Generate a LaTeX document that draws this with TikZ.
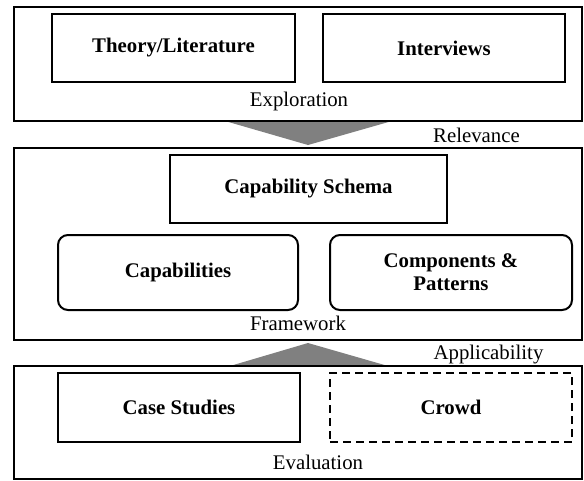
\documentclass[tikz,border=0pt]{standalone}
\usepackage{fontspec}
\setmainfont{Liberation Serif}
\begin{document}
\begin{tikzpicture}[x=1pt,y=-1pt,
  outer/.style={draw, line width=2.2pt, inner sep=0pt},
  inbox/.style={draw, line width=2pt, inner sep=0pt, align=center,
    font=\fontsize{20.8}{23}\selectfont\bfseries},
  rbox/.style={inbox, rounded corners=10pt},
  dbox/.style={inbox, dash pattern=on 8pt off 5pt},
  lbl/.style={inner sep=0pt, font=\fontsize{20.8}{23}\selectfont},
  chev/.style={fill=gray, draw=none}]
\useasboundingbox (0,0) rectangle (584,480);
% chevrons
\fill[chev] (225,121) -- (392,121) -- (308,145) -- cycle;
\fill[chev] (230,366) -- (388,366) -- (308,343) -- cycle;
% outer boxes
\node[outer, minimum width=568pt, minimum height=114pt] (expl) at (298,64) {};
\node[outer, minimum width=568pt, minimum height=192pt] (frame) at (298,244) {};
\node[outer, minimum width=568pt, minimum height=113pt] (eval) at (298,422.5) {};
% inner boxes
\node[inbox, minimum width=243pt, minimum height=68pt] (theory) at (173.5,48) {Theory/Literature};
\node[inbox, minimum width=242pt, minimum height=68pt] (interv) at (444,48) {Interviews};
\node[inbox, minimum width=277pt, minimum height=68pt] (schema) at (308.5,189) {Capability Schema};
\node[rbox, minimum width=240pt, minimum height=75pt] (caps) at (178,272.5) {Capabilities};
\node[rbox, minimum width=242pt, minimum height=75pt] (comps) at (451,272.5) {Components \&\\Patterns};
\node[inbox, minimum width=242pt, minimum height=69pt] (case) at (179,407.5) {Case Studies};
\node[dbox, minimum width=242pt, minimum height=69pt] (crowd) at (451,407.5) {Crowd};
% labels
\node[lbl] (lexpl) at (299,101) {Exploration};
\node[lbl] (lframe) at (298,323) {Framework};
\node[lbl] (leval) at (318,462) {Evaluation};
\node[lbl] (lrel) at (476.5,135) {Relevance};
\node[lbl] (lapp) at (488.5,355) {Applicability};
\end{tikzpicture}
\end{document}
